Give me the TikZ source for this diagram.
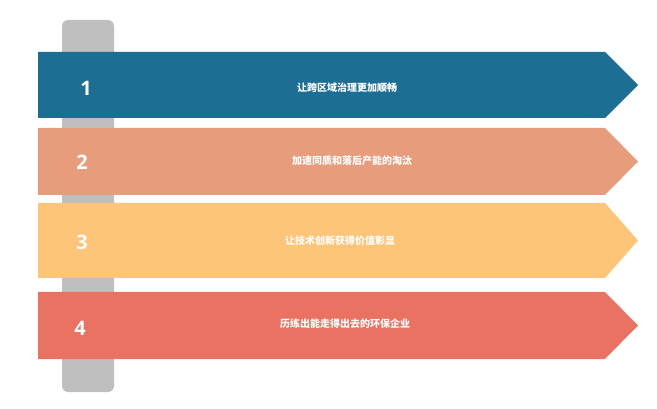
\documentclass[tikz,border=0pt]{standalone}
\usepackage{fontspec}
\newfontfamily\cjk{Noto Sans CJK SC}
\setmainfont{Open Sans}
\definecolor{cA}{HTML}{1C6E93}
\definecolor{cB}{HTML}{E79C7C}
\definecolor{cC}{HTML}{FEC477}
\definecolor{cD}{HTML}{E97262}
\definecolor{gbar}{HTML}{BFBFBF}
\begin{document}
\begin{tikzpicture}[x=1pt,y=-1pt,
  num/.style={text=white,font=\bfseries\fontsize{20}{20}\selectfont},
  lbl/.style={text=white,font=\cjk\bfseries\fontsize{10}{12}\selectfont}]
\useasboundingbox (0,0) rectangle (657,409);
\fill[gbar,rounded corners=6pt] (62,20) rectangle (114,392);
\newcommand\myarrow[4]{\fill[#1] (38,#2) -- (605,#2) -- (638,#4) -- (605,#3) -- (38,#3) -- cycle;}
\myarrow{cA}{52}{118}{85}
\myarrow{cB}{128}{195}{161.5}
\myarrow{cC}{203}{278}{240.5}
\myarrow{cD}{292}{359}{325.5}
\node[num] (n1) at (86,88) {1};
\node[num] (n2) at (82,162) {2};
\node[num] (n3) at (82,242) {3};
\node[num] (n4) at (80,328) {4};
\node[lbl] (t1) at (347,88) {让跨区域治理更加顺畅};
\node[lbl] (t2) at (352,161) {加速同质和落后产能的淘汰};
\node[lbl] (t3) at (340,241) {让技术创新获得价值彰显};
\node[lbl] (t4) at (345,324) {历练出能走得出去的环保企业};
\end{tikzpicture}
\end{document}
